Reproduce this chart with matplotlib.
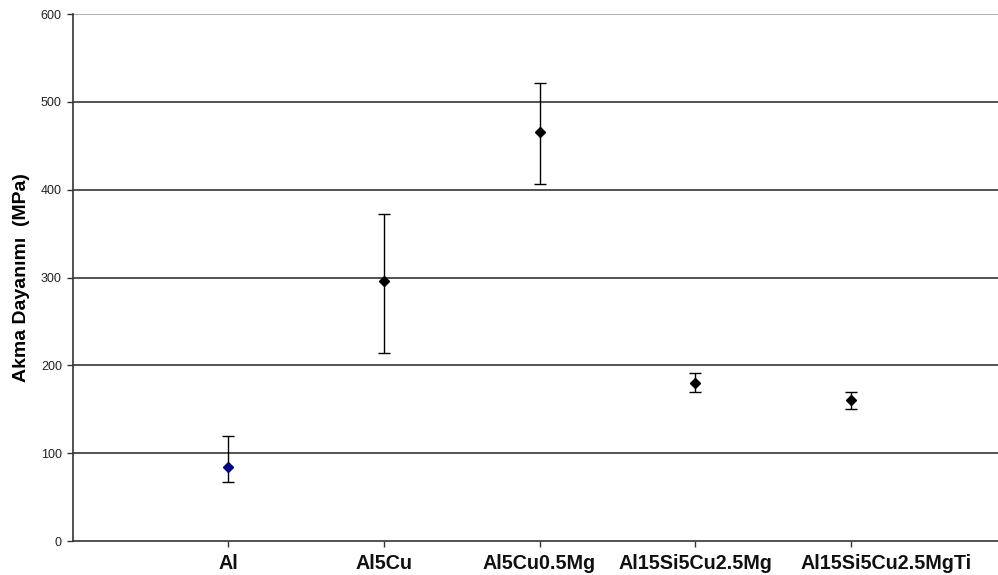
import matplotlib
matplotlib.use("Agg")
import matplotlib.pyplot as plt
from matplotlib.transforms import ScaledTranslation

plt.rcParams['font.family'] = ['Liberation Sans', 'DejaVu Sans']

alloys = ["Al", "Al5Cu", "Al5Cu0.5Mg", "Al15Si5Cu2.5Mg", "Al15Si5Cu2.5MgTi"]
yield_strength = [84, 296, 466, 180, 160]
upper_bound = [119, 372, 522, 191, 170]
lower_bound = [67, 214, 407, 170, 150]
marker_colors = ["#000080", "black", "black", "black", "black"]
y_ticks = [0, 100, 200, 300, 400, 500, 600]

fig = plt.figure(figsize=(9.98, 5.75), dpi=100)
ax = fig.add_axes([0.0731, 0.0591, 0.935, 0.9165])

positions = list(range(1, len(alloys) + 1))

# horizontal gridlines
for t in y_ticks[1:]:
    ax.axhline(t, color="#aaaaaa" if t == 600 else "#444444", lw=1.3, zorder=1)

for x, y, hi, lo, c in zip(positions, yield_strength, upper_bound, lower_bound, marker_colors):
    ax.errorbar([x], [y], yerr=[[y - lo], [hi - y]], fmt="D", color=c,
                ecolor="black", elinewidth=1.0, capsize=4.5, capthick=1.0,
                markersize=5, zorder=3)

ax.set_xlim(0, 6)
ax.set_ylim(0, 600)
ax.set_xticks(positions)
ax.set_xticklabels(alloys, fontsize=14.2, fontweight="bold", color="#111111")
ax.set_yticks(y_ticks)
ax.set_yticklabels([str(t) for t in y_ticks], fontsize=9, color="#222222")
ax.tick_params(axis="both", direction="out", length=4, width=1, color="#333333")
ax.tick_params(axis="x", pad=5)
ax.tick_params(axis="y", pad=4)

# nudge the last category label right so it clears its neighbour
last = ax.get_xticklabels()[-1]
last.set_transform(last.get_transform() + ScaledTranslation(0.36, 0, fig.dpi_scale_trans))

for side in ("top", "right"):
    ax.spines[side].set_visible(False)
for side in ("left", "bottom"):
    ax.spines[side].set_color("#333333")
    ax.spines[side].set_linewidth(1.2)

ax.set_ylabel("Akma Dayanımı  (MPa)", fontsize=14, fontweight="bold", labelpad=8)

fig.savefig("out.png", dpi=100)
